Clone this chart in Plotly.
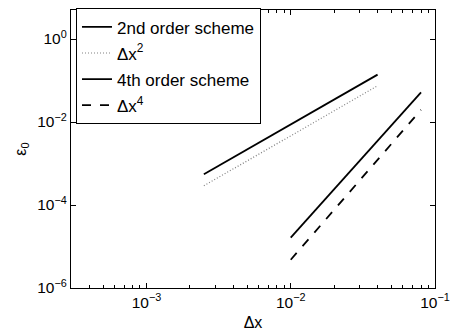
import plotly.graph_objects as go

# grid spacings and measured errors
dx_second = [0.0025, 0.005, 0.01, 0.02, 0.04]
err_second = [5.5e-4, 2.2e-3, 8.8e-3, 3.5e-2, 1.39e-1]
ref_second = [2.9e-4, 1.17e-3, 4.7e-3, 1.88e-2, 7.5e-2]

dx_fourth = [0.01, 0.02, 0.04, 0.08]
err_fourth = [1.63e-5, 2.4e-4, 3.5e-3, 5.2e-2]
ref_fourth = [4.8e-6, 7.7e-5, 1.23e-3, 1.97e-2]

x_tickvals = [1e-3, 1e-2, 1e-1]
x_ticktext = ["10<sup>−3</sup>", "10<sup>−2</sup>", "10<sup>−1</sup>"]
y_tickvals = [1e-6, 1e-4, 1e-2, 1e0]
y_ticktext = ["10<sup>−6</sup>", "10<sup>−4</sup>", "10<sup>−2</sup>", "10<sup>0</sup>"]

x_minor = [m * 10.0 ** e for e in (-4, -3, -2) for m in range(2, 10) if m * 10.0 ** e >= 3e-4]

FONT = "Liberation Sans, Arial, sans-serif"

fig = go.Figure()
fig.add_trace(go.Scatter(x=dx_second, y=err_second, mode="lines",
                         name="2nd order scheme", legendgroup="a",
                         line=dict(color="black", width=1.8)))
fig.add_trace(go.Scatter(x=dx_second, y=ref_second, mode="lines",
                         name="Δx<sup>2</sup>", legendgroup="b",
                         line=dict(color="#808080", width=1.2, dash="1px,2px")))
fig.add_trace(go.Scatter(x=dx_fourth, y=err_fourth, mode="lines",
                         name="4th order scheme", legendgroup="c",
                         line=dict(color="black", width=1.8)))
fig.add_trace(go.Scatter(x=dx_fourth, y=ref_fourth, mode="lines",
                         name="Δx<sup>4</sup>", legendgroup="d",
                         line=dict(color="black", width=1.8, dash="dash")))

axis_common = dict(
    type="log", showgrid=False, zeroline=False, automargin=False,
    showline=True, linecolor="black", linewidth=1.3, mirror="ticks",
    ticks="inside", ticklen=5, tickcolor="black", tickwidth=1,
    tickfont=dict(family=FONT, size=15.5, color="black"),
)

fig.update_layout(
    width=450, height=332,
    margin=dict(l=71, r=15, t=8, b=44),
    paper_bgcolor="white", plot_bgcolor="white",
    font=dict(family=FONT, color="black"),
    xaxis=dict(
        **axis_common,
        range=[-3.523, -1.0],
        tickvals=x_tickvals, ticktext=x_ticktext,
        minor=dict(tickvals=x_minor, ticks="inside", ticklen=3,
                   tickcolor="black", tickwidth=1),
        title=dict(text="Δx", font=dict(family=FONT, size=16), standoff=7),
    ),
    yaxis=dict(
        **axis_common,
        range=[-6.0, 0.7],
        tickvals=y_tickvals, ticktext=y_ticktext,
        title=dict(text="ε<sub>0</sub>", font=dict(family=FONT, size=16), standoff=6),
    ),
    legend=dict(
        x=0.0137, y=1.006, xanchor="left", yanchor="top",
        bgcolor="white", bordercolor="black", borderwidth=1,
        font=dict(family=FONT, size=17, color="black"),
        itemwidth=30, tracegroupgap=1,
    ),
)

fig.write_html("out.html")
